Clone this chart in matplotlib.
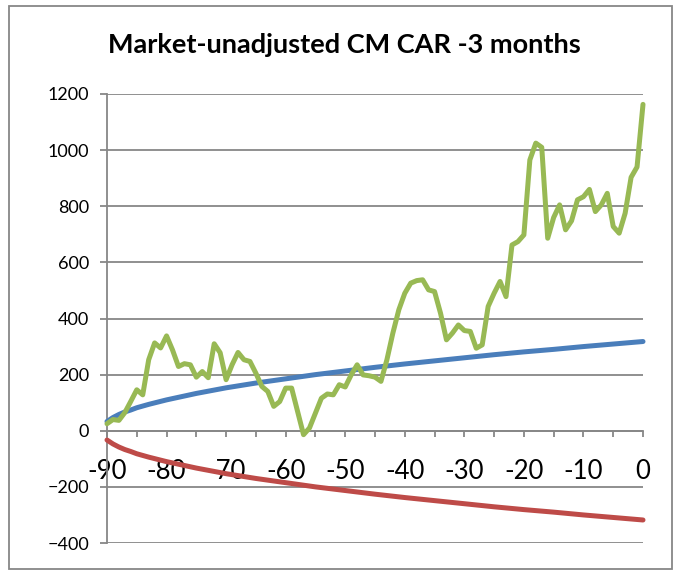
import matplotlib
matplotlib.use("Agg")
import matplotlib.pyplot as plt
from matplotlib.patches import Rectangle
from matplotlib.ticker import MultipleLocator

plt.rcParams['font.family'] = ['Lato', 'DejaVu Sans']

title = "Market-unadjusted CM CAR -3 months"

days = list(range(-90, 1))
car = [25, 40, 37, 65, 105, 146, 128, 253, 313, 295,
       338, 288, 229, 239, 235, 191, 211, 189, 310, 278,
       182, 235, 279, 253, 247, 205, 158, 140, 87, 104,
       152, 152, 69, -14, 10, 63, 116, 131, 128, 164,
       156, 199, 235, 199, 196, 191, 176, 253, 348, 431,
       490, 526, 535, 538, 502, 496, 419, 324, 348, 377,
       357, 354, 294, 306, 443, 490, 532, 478, 662, 674,
       698, 965, 1025, 1010, 686, 760, 805, 716, 748, 823,
       834, 860, 781, 805, 846, 728, 704, 775, 903, 940,
       1163]

band_days = [-90, -89, -88, -87, -86, -85, -83, -80, -75, -70, -65, -60,
             -55, -50, -45, -40, -35, -30, -25, -20, -15, -10, -5, 0]
upper = [33, 47, 58, 67, 74, 82, 94, 110, 133, 153, 170, 185,
         200, 213, 226, 238, 249, 260, 271, 281, 290, 300, 309, 318]
lower = [-33, -47, -58, -67, -74, -82, -94, -110, -133, -153, -170, -185,
         -200, -213, -226, -238, -249, -260, -271, -281, -290, -300, -309, -318]

x_ticks = list(range(-90, 1, 10))
y_ticks = list(range(-400, 1201, 200))

W, H = 682, 571
fig = plt.figure(figsize=(W / 100, H / 100), dpi=100)
ax = fig.add_axes([107 / W, 1 - 543 / H, (643 - 107) / W, (543 - 94) / H])

blue = '#4A7EBB'
red = '#BE4B48'
green = '#98B954'
grid_c = '#878787'

lw = 3.6
ax.plot(band_days, upper, color=blue, lw=lw, solid_capstyle='round', zorder=3, clip_on=False)
ax.plot(band_days, lower, color=red, lw=lw, solid_capstyle='round', zorder=3, clip_on=False)
ax.plot(days, car, color=green, lw=lw, solid_capstyle='round',
        solid_joinstyle='round', zorder=4, clip_on=False)

ax.set_xlim(-90, 0)
ax.set_ylim(-400, 1200)
ax.set_yticks(y_ticks)
ax.set_xticks(x_ticks)
ax.xaxis.set_minor_locator(MultipleLocator(5))
ax.set_xticklabels([str(v) for v in x_ticks])

ax.grid(axis='y', color=grid_c, lw=1.3, zorder=1)
ax.set_axisbelow(True)

for s in ['top', 'right']:
    ax.spines[s].set_visible(False)
ax.spines['bottom'].set_position(('data', 0))
ax.spines['bottom'].set_color(grid_c)
ax.spines['bottom'].set_linewidth(1.3)
ax.spines['left'].set_color(grid_c)
ax.spines['left'].set_linewidth(1.3)

ax.tick_params(axis='y', direction='out', length=5, width=1.3, color=grid_c,
               labelsize=13, pad=8, labelcolor='black')
ax.tick_params(axis='x', which='both', direction='out', length=4.5, width=1.3,
               color=grid_c)
ax.tick_params(axis='x', which='major', labelsize=18.5, pad=16, labelcolor='black')

fig.text(344 / W, 1 - 45 / H, title, ha='center', va='center',
         fontsize=19.5, fontweight='bold')

fig.patches.append(Rectangle((9 / W, 1 - 569 / H), (672 - 9) / W, (569 - 6) / H,
                             transform=fig.transFigure, fill=False,
                             edgecolor=grid_c, lw=1.3))

fig.savefig('out.png', dpi=100)
